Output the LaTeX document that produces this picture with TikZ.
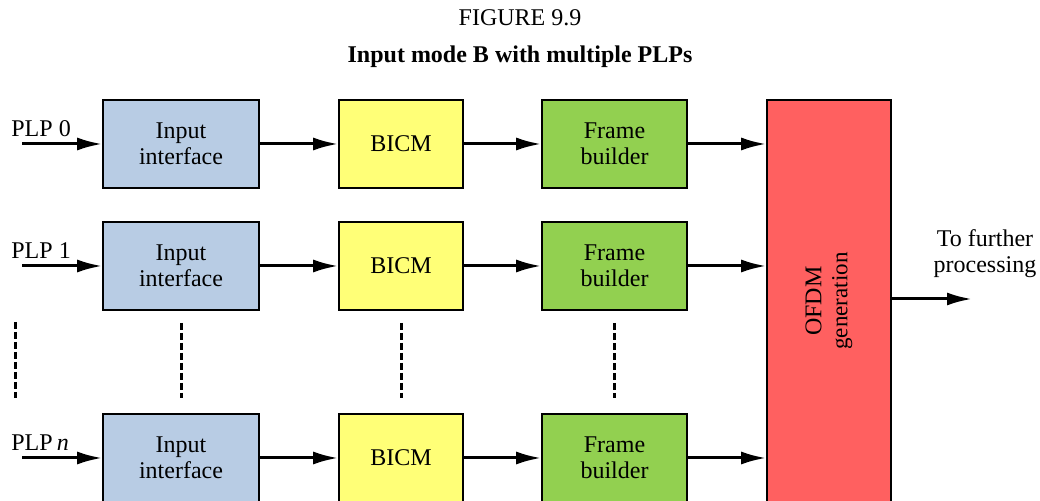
\documentclass[tikz,border=0pt]{standalone}
\usepackage{fontspec}
\setmainfont{Liberation Serif}
\usetikzlibrary{arrows.meta}
\definecolor{bleuboite}{RGB}{184,204,228}
\definecolor{jauneboite}{RGB}{255,255,119}
\definecolor{vertboite}{RGB}{146,208,80}
\definecolor{rougeboite}{RGB}{255,96,96}
\begin{document}
\begin{tikzpicture}[x=0.5pt,y=-0.5pt,
    boite/.style={draw,line width=0.8pt,align=center,inner sep=0pt,
      minimum height=44pt,font=\rmfamily\fontsize{12}{13}\selectfont},
    fleche/.style={line width=1.5pt,-{Latex[length=12.5pt,width=6.5pt]}},
    pointilles/.style={line width=1.5pt,dash pattern=on 3.5pt off 1.5pt},
    etiquette/.style={font=\rmfamily\fontsize{12}{13}\selectfont,inner sep=0pt}]
    % cadre
    \useasboundingbox (0,0) rectangle (1040,501);
    \clip (0,0) rectangle (1040,501);
    % titre
    \node[font=\rmfamily\fontsize{12}{14}\selectfont] (titre) at (520,18) {FIGURE 9.9};
    \node[font=\rmfamily\fontsize{12}{14}\selectfont\bfseries] (soustitre) at (520,57) {Input mode B with multiple PLPs};
    % boites
    \node[boite,fill=bleuboite,minimum width=78pt] (in0) at (181,144) {Input\\interface};
    \node[boite,fill=bleuboite,minimum width=78pt] (in1) at (181,266) {Input\\interface};
    \node[boite,fill=bleuboite,minimum width=78pt] (inn) at (181,458) {Input\\interface};
    \node[boite,fill=jauneboite,minimum width=62pt] (bicm0) at (401,144) {BICM};
    \node[boite,fill=jauneboite,minimum width=62pt] (bicm1) at (401,266) {BICM};
    \node[boite,fill=jauneboite,minimum width=62pt] (bicmn) at (401,458) {BICM};
    \node[boite,fill=vertboite,minimum width=72.5pt] (fb0) at (614.5,144) {Frame\\builder};
    \node[boite,fill=vertboite,minimum width=72.5pt] (fb1) at (614.5,266) {Frame\\builder};
    \node[boite,fill=vertboite,minimum width=72.5pt] (fbn) at (614.5,458) {Frame\\builder};
    \node[boite,fill=rougeboite,minimum width=62pt,minimum height=250pt] (ofdm) at (829,350) {};
    \node[rotate=90,align=center,inner sep=0pt,font=\rmfamily\fontsize{12}{13}\selectfont] (ofdmtxt) at (829,301)
      {OFDM\\{\fontsize{11.5}{12}\selectfont generation}};
    % entrees
    \coordinate (e0) at (22,144);
    \coordinate (e1) at (22,266);
    \coordinate (en) at (22,458);
    \node[etiquette,anchor=base west] (plp0) at (11,137) {PLP 0};
    \node[etiquette,anchor=base west] (plp1) at (11,259) {PLP 1};
    \node[etiquette,anchor=base west] (plpn) at (11,451) {PLP\,\textit{n}};
    % fleches
    \draw[fleche] (e0) -- (in0);
    \draw[fleche] (e1) -- (in1);
    \draw[fleche] (en) -- (inn);
    \draw[fleche] (in0) -- (bicm0);
    \draw[fleche] (in1) -- (bicm1);
    \draw[fleche] (inn) -- (bicmn);
    \draw[fleche] (bicm0) -- (fb0);
    \draw[fleche] (bicm1) -- (fb1);
    \draw[fleche] (bicmn) -- (fbn);
    \draw[fleche] (fb0) -- (fb0 -| ofdm.west);
    \draw[fleche] (fb1) -- (fb1 -| ofdm.west);
    \draw[fleche] (fbn) -- (fbn -| ofdm.west);
    % sortie
    \coordinate (sortie) at (972,299);
    \draw[fleche] (ofdm.east |- sortie) -- (sortie);
    \node[etiquette,align=center] (suite) at (985,254) {To further\\processing};
    % pointilles
    \draw[pointilles] (15,322) -- (15,398);
    \draw[pointilles] ([yshift=-6pt]in1.south) -- ([yshift=7.5pt]inn.north);
    \draw[pointilles] ([yshift=-6pt]bicm1.south) -- ([yshift=7.5pt]bicmn.north);
    \draw[pointilles] ([yshift=-6pt]fb1.south) -- ([yshift=7.5pt]fbn.north);
\end{tikzpicture}
\end{document}
